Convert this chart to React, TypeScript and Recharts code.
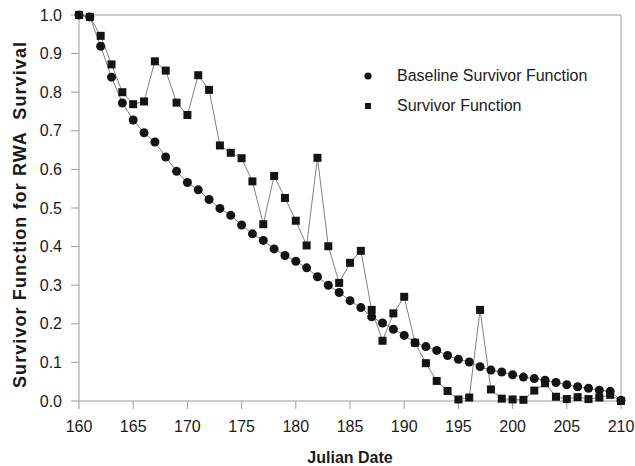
import React from 'react';
import {
  LineChart,
  Line,
  XAxis,
  YAxis,
  ReferenceLine,
  Legend,
} from 'recharts';

const days = [
  160, 161, 162, 163, 164, 165, 166, 167, 168, 169, 170, 171, 172, 173, 174,
  175, 176, 177, 178, 179, 180, 181, 182, 183, 184, 185, 186, 187, 188, 189,
  190, 191, 192, 193, 194, 195, 196, 197, 198, 199, 200, 201, 202, 203, 204,
  205, 206, 207, 208, 209, 210,
];

const baseline = [
  1.0, 0.995, 0.919, 0.839, 0.772, 0.728, 0.695, 0.671, 0.632, 0.595, 0.566,
  0.547, 0.522, 0.499, 0.481, 0.456, 0.433, 0.416, 0.394, 0.377, 0.362, 0.345,
  0.322, 0.3, 0.281, 0.26, 0.242, 0.218, 0.202, 0.186, 0.17, 0.151, 0.141,
  0.131, 0.118, 0.108, 0.101, 0.089, 0.08, 0.075, 0.068, 0.062, 0.058, 0.054,
  0.048, 0.042, 0.037, 0.033, 0.028, 0.025, 0.002,
];

const survivor = [
  1.0, 0.995, 0.946, 0.872, 0.8, 0.769, 0.776, 0.88, 0.856, 0.773, 0.741,
  0.844, 0.806, 0.662, 0.643, 0.629, 0.569, 0.458, 0.583, 0.526, 0.467, 0.403,
  0.63, 0.401, 0.306, 0.358, 0.389, 0.236, 0.156, 0.227, 0.27, 0.151, 0.098,
  0.052, 0.026, 0.004, 0.009, 0.236, 0.03, 0.006, 0.004, 0.003, 0.027, 0.046,
  0.011, 0.005, 0.01, 0.005, 0.009, 0.016, 0.0,
];

const xTicks = [160, 165, 170, 175, 180, 185, 190, 195, 200, 205, 210];
const yTicks = [0, 0.1, 0.2, 0.3, 0.4, 0.5, 0.6, 0.7, 0.8, 0.9, 1.0];

const data = days.map((d, i) => ({
  day: d,
  baseline: baseline[i],
  survivor: survivor[i],
}));

const FONT = '"Liberation Sans", Arial, sans-serif';
const AXIS = '#9a9a9a';
const MARK = '#141414';

const CircleDot = (p: any) => (
  <circle key={`c-${p.index}`} cx={p.cx} cy={p.cy} r={4.5} fill={MARK} />
);

const SquareDot = (p: any) => (
  <rect
    key={`s-${p.index}`}
    x={p.cx - 4}
    y={p.cy - 4}
    width={8}
    height={8}
    fill={MARK}
  />
);

const LegendBox = () => (
  <div style={{ fontFamily: FONT, fontSize: 16, color: '#1a1a1a' }}>
    <div style={{ display: 'flex', alignItems: 'center', height: 30 }}>
      <svg width={12} height={12}>
        <circle cx={6} cy={6} r={3.6} fill={MARK} />
      </svg>
      <span style={{ marginLeft: 23 }}>Baseline Survivor Function</span>
    </div>
    <div style={{ display: 'flex', alignItems: 'center', height: 30 }}>
      <svg width={12} height={12}>
        <rect x={3} y={3} width={6} height={6} fill={MARK} />
      </svg>
      <span style={{ marginLeft: 23 }}>Survivor Function</span>
    </div>
  </div>
);

// axis titles drawn at fixed spots to match the source
const YTitle = () => (
  <text
    x={20}
    y={215}
    transform="rotate(-90, 20, 215)"
    textAnchor="middle"
    dominantBaseline="central"
    fontFamily={FONT}
    fontSize={18}
    fontWeight="bold"
    fill="#1a1a1a"
    textLength={346}
    lengthAdjust="spacing"
    style={{ whiteSpace: 'pre' }}
  >
    Survivor Function for RWA  Survival
  </text>
);

const XTitle = () => (
  <text
    x={350}
    y={463}
    textAnchor="middle"
    fontFamily={FONT}
    fontSize={16}
    fontWeight="bold"
    fill="#1a1a1a"
  >
    Julian Date
  </text>
);

export default function App() {
  return (
    <div style={{ position: 'absolute', left: 0, top: 0, background: '#fff' }}>
      <LineChart
        width={635}
        height={466}
        data={data}
        margin={{ top: 15, right: 14, bottom: 0, left: 0 }}
      >
        <XAxis
          dataKey="day"
          type="number"
          domain={[160, 210]}
          ticks={xTicks}
          height={65}
          stroke={AXIS}
          tickSize={8}
          tickMargin={12}
          tick={{ fill: '#1a1a1a', fontSize: 16, fontFamily: FONT }}
          label={<XTitle />}
        />
        <YAxis
          type="number"
          domain={[0, 1]}
          ticks={yTicks}
          width={79}
          stroke={AXIS}
          tickSize={8}
          tickMargin={9}
          tickFormatter={(v: number) => v.toFixed(1)}
          tick={{ fill: '#1a1a1a', fontSize: 16, fontFamily: FONT }}
          label={<YTitle />}
        />
        <ReferenceLine y={1} stroke={AXIS} />
        <ReferenceLine x={210} stroke={AXIS} />
        <Legend
          layout="vertical"
          align="center"
          verticalAlign="middle"
          content={<LegendBox />}
          wrapperStyle={{ left: 362, top: 61, width: 260 }}
        />
        <Line
          dataKey="baseline"
          stroke="#808080"
          strokeWidth={1}
          dot={CircleDot}
          activeDot={false}
          isAnimationActive={false}
        />
        <Line
          dataKey="survivor"
          stroke="#808080"
          strokeWidth={1}
          dot={SquareDot}
          activeDot={false}
          isAnimationActive={false}
        />
      </LineChart>
    </div>
  );
}
